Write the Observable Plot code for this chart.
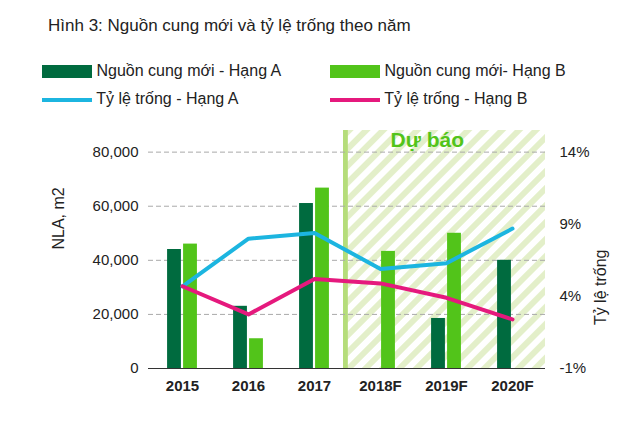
<!DOCTYPE html><html><head><meta charset="utf-8">
<script src="https://cdn.jsdelivr.net/npm/d3@7"></script>
<script src="https://cdn.jsdelivr.net/npm/@observablehq/plot@0.6"></script>
<style>body{margin:0;font-family:Arial,"Liberation Sans",sans-serif;background:#fff}
#wrap{position:relative;width:618px;height:423px}
.t{position:absolute;font-size:16px;color:#222}
.sw{display:inline-block;vertical-align:middle}
</style></head><body><div id="wrap">
<div class="t" style="left:48px;top:16px;font-size:17px">Hình 3: Nguồn cung mới và tỷ lệ trống theo năm</div>
<div class="t" style="left:42px;top:62px"><span class="sw" style="width:50px;height:13px;background:#006b3f"></span> Nguồn cung mới - Hạng A</div>
<div class="t" style="left:330px;top:62px"><span class="sw" style="width:50px;height:13px;background:#52c41a"></span> Nguồn cung mới- Hạng B</div>
<div class="t" style="left:42px;top:90px"><span class="sw" style="width:50px;height:4px;background:#1cb5e0"></span> Tỷ lệ trống - Hạng A</div>
<div class="t" style="left:330px;top:90px"><span class="sw" style="width:50px;height:4px;background:#e5197d"></span> Tỷ lệ trống - Hạng B</div>
</div>
<script>
const years=["2015","2016","2017","2018F","2019F","2020F"];
const supplyA=[44000,23000,61000,null,18500,40000];
const supplyB=[46000,11000,66700,43300,50000,null];
const vacA=[4.7,8.0,8.4,5.9,6.3,8.7];
const vacB=[4.7,2.75,5.2,4.9,3.9,2.4];
const forecast=["2018F","2019F","2020F"];
const pctTicks=[-1,4,9,14];
const p2y=p=>(p+1)*80000/15;
const A=years.map((y,i)=>({y,v:supplyA[i]})).filter(d=>d.v!=null);
const B=years.map((y,i)=>({y,v:supplyB[i]})).filter(d=>d.v!=null);
const LA=years.map((y,i)=>({y,v:p2y(vacA[i])}));
const LB=years.map((y,i)=>({y,v:p2y(vacB[i])}));
const bw=(618-148-73)/6;
const chart=Plot.plot({width:618,height:423,marginLeft:148,marginRight:73,marginTop:130,marginBottom:55,
style:{fontSize:"15px",fontFamily:"Arial, Liberation Sans, sans-serif",color:"#222",background:"transparent"},
x:{domain:years,padding:0,label:null},
y:{domain:[0,88000],label:null},
marks:[
Plot.barY(forecast,{x:d=>d,y1:0,y2:88000,fill:"url(#hatch)"}),
Plot.barY(["2018F"],{x:d=>d,y1:0,y2:88000,fill:"#b5dd7a",insetLeft:-4,insetRight:bw-1}),
Plot.ruleY([20000,40000,60000,80000],{stroke:"#aaa",strokeDasharray:"5,3"}),
Plot.ruleY([0],{stroke:"#333"}),
Plot.barY(A,{x:"y",y:"v",fill:"#006b3f",insetLeft:bw/2-15,insetRight:bw/2+1}),
Plot.barY(B,{x:"y",y:"v",fill:"#52c41a",insetLeft:bw/2+1,insetRight:bw/2-15}),
Plot.line(LA,{x:"y",y:"v",stroke:"#1cb5e0",strokeWidth:4}),
Plot.line(LB,{x:"y",y:"v",stroke:"#e5197d",strokeWidth:4}),
Plot.text(["Dự báo"],{x:()=>"2018F",y:()=>84500,text:d=>d,dx:10,textAnchor:"start",fill:"#52c41a",fontWeight:"bold",fontSize:21}),
Plot.axisX({tickSize:0,tickPadding:12,fontWeight:"bold",fontSize:15}),
Plot.axisY({ticks:[0,20000,40000,60000,80000],tickFormat:d3.format(","),tickSize:0,tickPadding:10,fontSize:15}),
Plot.axisY({anchor:"right",ticks:pctTicks.map(p2y),tickFormat:v=>Math.round(v*15/80000-1)+"%",tickSize:0,tickPadding:14,fontSize:15}),
Plot.text(["NLA, m2"],{frameAnchor:"left",dx:-90,rotate:-90,fontSize:16,text:d=>d}),
Plot.text(["Tỷ lệ trống"],{frameAnchor:"right",dx:55,rotate:-90,fontSize:16,text:d=>d})
]});
chart.style.position="absolute";chart.style.left="0";chart.style.top="0";
const defs=d3.select(chart).insert("defs",":first-child");
const pat=defs.append("pattern").attr("id","hatch").attr("patternUnits","userSpaceOnUse").attr("width",12).attr("height",12).attr("patternTransform","rotate(45)");
pat.append("rect").attr("width",12).attr("height",12).attr("fill","#fff");
pat.append("rect").attr("width",6).attr("height",12).attr("fill","#e3efc9");
document.getElementById("wrap").prepend(chart);
</script></body></html>
